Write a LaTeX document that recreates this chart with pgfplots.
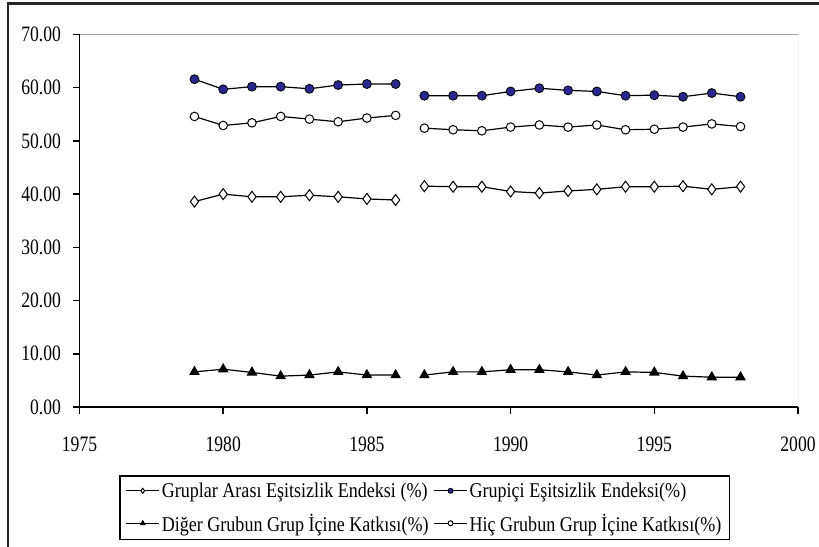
\documentclass[border=0pt]{standalone}
\usepackage{fontspec}
\setmainfont{Liberation Serif}
\newfontfamily\legfont[FakeStretch=0.86]{Liberation Serif}
\newfontfamily\tickfont[FakeStretch=0.8]{Liberation Serif}
\usepackage{pgfplots}
\usepackage{pgfplotstable}
\pgfplotsset{compat=1.18}
\definecolor{navyfill}{RGB}{40,40,140}

\pgfplotstableread{
year A B C D
1979 38.6 61.6 6.6 54.6
1980 40.0 59.7 7.1 52.9
1981 39.5 60.2 6.5 53.4
1982 39.5 60.2 5.8 54.6
1983 39.8 59.8 6.0 54.1
1984 39.5 60.5 6.6 53.6
1985 39.1 60.7 6.0 54.3
1986 38.9 60.7 6.0 54.8
1986.5 nan nan nan nan
1987 41.5 58.5 6.0 52.4
1988 41.4 58.5 6.6 52.1
1989 41.4 58.5 6.6 51.9
1990 40.5 59.3 7.0 52.6
1991 40.2 59.9 7.0 53.0
1992 40.6 59.5 6.6 52.6
1993 40.9 59.3 6.0 53.0
1994 41.4 58.5 6.6 52.1
1995 41.4 58.6 6.5 52.2
1996 41.5 58.3 5.8 52.6
1997 40.9 59.0 5.6 53.2
1998 41.4 58.3 5.6 52.7
}\data

\begin{document}
\begin{tikzpicture}
\useasboundingbox (0pt,0pt) rectangle (819pt,546pt);
\draw[line width=2.2pt, black!85] (8pt,-2pt) -- (8pt,542.5pt) -- (822pt,542.5pt);
\begin{axis}[
  at={(79.5pt,139pt)}, anchor=south west,
  scale only axis, width=718.5pt, height=372.5pt,
  xmin=1975, xmax=2000, ymin=0, ymax=70,
  xtick={1975,1980,...,2000}, ytick={0,10,...,70},
  axis lines=left, axis line style={-, line width=1.5pt, black},
  tick align=outside, major tick length=7pt,
  tick style={line width=1.5pt, black},
  ticklabel style={font=\fontsize{22}{24}\tickfont},
  /pgf/number format/assume math mode=true,
  xticklabel style={/pgf/number format/1000 sep={}, yshift=-19pt},
  yticklabel style={xshift=-8pt, /pgf/number format/fixed, /pgf/number format/fixed zerofill, /pgf/number format/precision=2},
  unbounded coords=jump,
  legend columns=2,
  legend cell align=left,
  legend style={at={(0.055,-0.1826)}, anchor=north west,
    font=\fontsize{21}{23}\legfont, draw=black, line width=1.5pt,
    inner xsep=6pt, inner ysep=5pt, row sep=11pt,
    nodes={inner sep=2pt},
    /tikz/every even column/.append style={column sep=3pt}},
  legend image code/.code={%
    \draw[mark repeat=2, mark phase=2, #1, mark size=2.5pt, line width=1pt]
      plot coordinates {(0pt,0pt) (16.5pt,0pt) (33pt,0pt)};},
]
\draw[gray!70, line width=1pt] (rel axis cs:0,1) -- (rel axis cs:1,1) -- (rel axis cs:1,0);
\addplot[black, line width=1.2pt, mark=diamond*, mark size=5.5pt, mark options={fill=white, draw=black, line width=1pt}] table[x=year, y=A] {\data};
\addlegendentry{Gruplar Arası Eşitsizlik Endeksi (\%)}
\addplot[black, line width=1.2pt, mark=*, mark size=4.5pt, mark options={fill=navyfill, draw=black, line width=0.8pt}] table[x=year, y=B] {\data};
\addlegendentry{Grupiçi Eşitsizlik Endeksi(\%)}
\addplot[black, line width=1.2pt, mark=triangle*, mark size=5pt, mark options={fill=black, draw=black}] table[x=year, y=C] {\data};
\addlegendentry{Diğer Grubun Grup İçine Katkısı(\%)}
\addplot[black, line width=1.2pt, mark=*, mark size=4.3pt, mark options={fill=white, draw=black, line width=1pt}] table[x=year, y=D] {\data};
\addlegendentry{Hiç Grubun Grup İçine Katkısı(\%)}
\end{axis}
\end{tikzpicture}
\end{document}
